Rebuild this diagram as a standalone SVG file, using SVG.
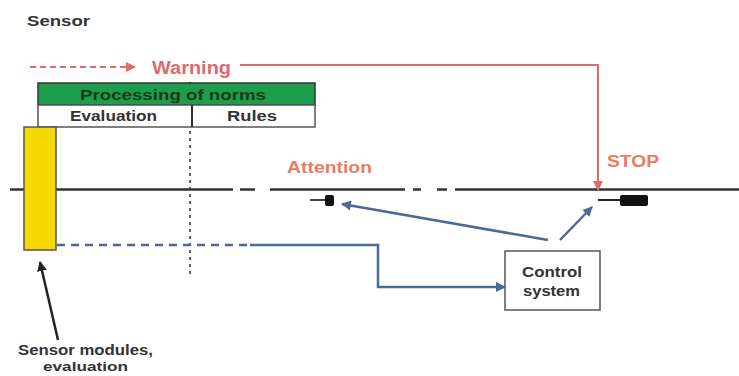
<svg xmlns="http://www.w3.org/2000/svg" width="739" height="376" viewBox="0 0 739 376">
<defs>
<style>
.t{font-family:"Liberation Sans",Arial,sans-serif;font-weight:bold}
.dark{fill:#333}
.red{fill:#e06a6a}
.org{fill:#ec7a60}
.blue{stroke:#4a6b94;stroke-width:2.5;fill:none}
</style>
<marker id="ar" viewBox="0 0 10 10" refX="9" refY="5" markerWidth="5" markerHeight="5" orient="auto"><path d="M0,0L10,5L0,10z" fill="#e06a6a"/></marker>
<marker id="ab" viewBox="0 0 10 10" refX="9" refY="5" markerWidth="4" markerHeight="4" orient="auto"><path d="M0,0L10,5L0,10z" fill="#4a6b94"/></marker>
<marker id="ak" viewBox="0 0 10 10" refX="9" refY="5" markerWidth="4" markerHeight="4" orient="auto"><path d="M0,0L10,5L0,10z" fill="#222"/></marker>
</defs>
<rect width="739" height="376" fill="#fff"/>
<text class="t dark" x="27" y="26" font-size="15" textLength="63" lengthAdjust="spacingAndGlyphs">Sensor</text>

<g id="road">
<path d="M10 189.5H233M240 189.5H255M270 189.5H405M413 189.5H421M437 189.5H447M455 189.5H739" stroke="#333" stroke-width="2.5" fill="none"/>
<line x1="190" y1="82" x2="190" y2="278" stroke="#333" stroke-width="1.5" stroke-dasharray="3,4"/>
</g>

<g id="norms">
<rect x="38" y="83" width="277" height="22" fill="#1e9e4c" stroke="#333" stroke-width="1.5"/>
<text class="t" x="80" y="100" font-size="14" textLength="186" lengthAdjust="spacingAndGlyphs" fill="#1a3a1f">Processing of norms</text>
<rect x="38" y="105" width="277" height="22" fill="#fff" stroke="#555" stroke-width="1.5"/>
<line x1="192" y1="105" x2="192" y2="127" stroke="#333" stroke-width="2"/>
<text class="t dark" x="70" y="121" font-size="14" textLength="87" lengthAdjust="spacingAndGlyphs">Evaluation</text>
<text class="t dark" x="227" y="121" font-size="14" textLength="50" lengthAdjust="spacingAndGlyphs">Rules</text>
</g>

<g id="sensor">
<rect x="24" y="127" width="32" height="123" fill="#f5d800" stroke="#555" stroke-width="1.5"/>
</g>

<g id="attention-car">
<line x1="310" y1="200" x2="325" y2="200" stroke="#444" stroke-width="2"/>
<rect x="325" y="195" width="9" height="11" rx="2" fill="#111"/>
</g>

<g id="stop-car">
<line x1="598" y1="200" x2="620" y2="200" stroke="#222" stroke-width="2"/>
<rect x="620" y="195" width="28" height="11" rx="2" fill="#111"/>
</g>

<g id="control">
<rect x="505" y="251" width="95" height="59" fill="#fff" stroke="#555" stroke-width="1.5"/>
<text class="t dark" x="522" y="277" font-size="15" textLength="60" lengthAdjust="spacingAndGlyphs">Control</text>
<text class="t dark" x="523" y="296" font-size="15" textLength="57" lengthAdjust="spacingAndGlyphs">system</text>
</g>

<g id="labels">
<text class="t red" x="152" y="74" font-size="18" textLength="79" lengthAdjust="spacingAndGlyphs">Warning</text>
<text class="t org" x="287" y="173" font-size="16" textLength="85" lengthAdjust="spacingAndGlyphs">Attention</text>
<text class="t org" x="607" y="167" font-size="16" textLength="52" lengthAdjust="spacingAndGlyphs">STOP</text>
<text class="t dark" x="18" y="355" font-size="14" textLength="135" lengthAdjust="spacingAndGlyphs">Sensor modules,</text>
<text class="t dark" x="43" y="371" font-size="13" textLength="85" lengthAdjust="spacingAndGlyphs">evaluation</text>
</g>

<g id="connectors">
<line x1="30" y1="67" x2="135" y2="67" stroke="#e06a6a" stroke-width="2" stroke-dasharray="6,4" marker-end="url(#ar)"/>
<path d="M240 65H598V190" stroke="#e06a6a" stroke-width="2" fill="none" marker-end="url(#ar)"/>
<path d="M57 245H250" class="blue" stroke-dasharray="8,6"/>
<path d="M250 245H378V287H505" class="blue" marker-end="url(#ab)"/>
<line x1="548" y1="240" x2="342" y2="204" class="blue" marker-end="url(#ab)"/>
<line x1="560" y1="240" x2="592" y2="207" class="blue" marker-end="url(#ab)"/>
<line x1="58" y1="340" x2="40" y2="262" stroke="#222" stroke-width="2.5" marker-end="url(#ak)"/>
</g>
</svg>
